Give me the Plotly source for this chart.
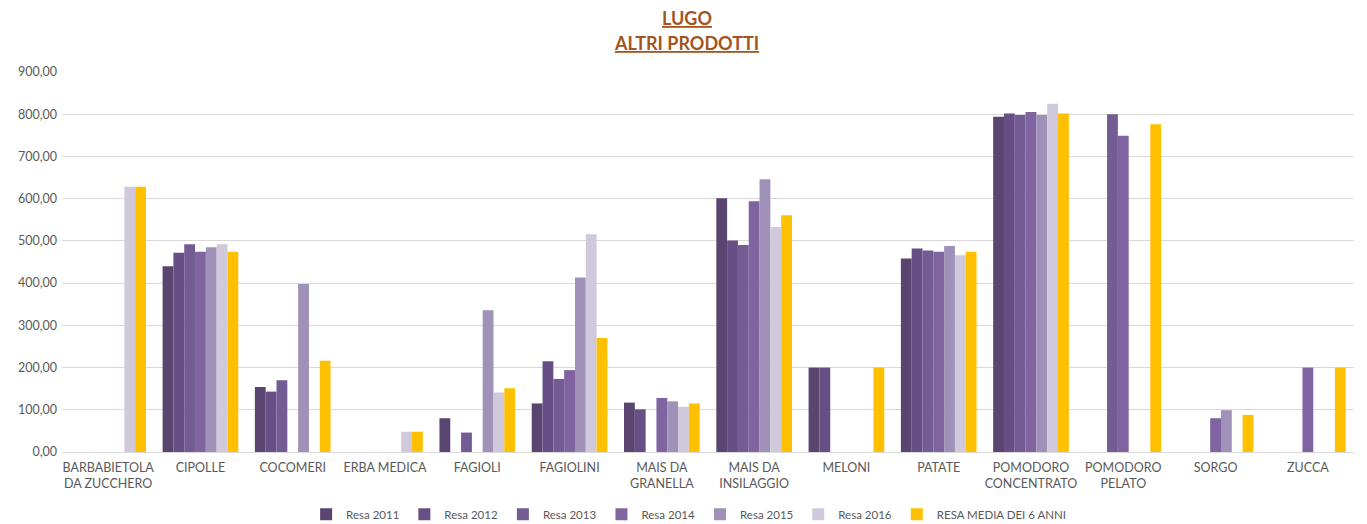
import plotly.graph_objects as go

categories = ["BARBABIETOLA<br>DA ZUCCHERO", "CIPOLLE", "COCOMERI", "ERBA MEDICA", "FAGIOLI",
              "FAGIOLINI", "MAIS DA<br>GRANELLA", "MAIS DA<br>INSILAGGIO", "MELONI", "PATATE",
              "POMODORO<br>CONCENTRATO", "POMODORO<br>PELATO", "SORGO", "ZUCCA"]

resa_2011 = [None, 440, 154, None, 80, 115, 117, 601, 200, 458, 794, None, None, None]
resa_2012 = [None, 472, 143, None, None, 215, 101, 501, 200, 482, 802, None, None, None]
resa_2013 = [None, 492, 170, None, 46, 173, None, 490, None, 477, 798, 800, None, None]
resa_2014 = [None, 474, None, None, None, 194, 128, 594, None, 474, 805, 749, 80, 200]
resa_2015 = [None, 485, 398, None, 336, 413, 120, 646, None, 488, 798, None, 99, None]
resa_2016 = [628, 492, None, 48, 141, 516, 107, 533, None, 466, 825, None, None, None]
resa_media = [628, 474, 216, 48, 151, 270, 115, 561, 200, 474, 802, 776, 88, 200]

series_names = ["Resa 2011", "Resa 2012", "Resa 2013", "Resa 2014", "Resa 2015", "Resa 2016",
                "RESA MEDIA DEI 6 ANNI"]
series_values = [resa_2011, resa_2012, resa_2013, resa_2014, resa_2015, resa_2016, resa_media]
colors = ["#5a4470", "#674f85", "#735b93", "#8064a0", "#a091b8", "#d0c9dc", "#ffc000"]

y_ticks = [0, 100, 200, 300, 400, 500, 600, 700, 800, 900]
y_tick_text = ["0,00", "100,00", "200,00", "300,00", "400,00", "500,00", "600,00", "700,00",
               "800,00", "900,00"]

title_lines = ["LUGO", "ALTRI PRODOTTI"]

font_family = "Lato, 'Open Sans', sans-serif"

fig = go.Figure()
for name, vals, col in zip(series_names, series_values, colors):
    fig.add_trace(go.Bar(name=name, x=categories, y=vals, marker_color=col,
                         marker_line_width=0))

for line, ypos in zip(title_lines, [1.141, 1.077]):
    fig.add_annotation(text="<b><u>" + line + "</u></b>", xref="paper", yref="paper",
                       x=0.4837, y=ypos, xanchor="center", yanchor="middle", showarrow=False,
                       font=dict(family=font_family, size=18, color="#a3551c"))

fig.update_layout(
    width=1367, height=524,
    paper_bgcolor="white", plot_bgcolor="white",
    margin=dict(l=54, r=21, t=64, b=80, autoexpand=False),
    barmode="group", bargap=0.18, bargroupgap=0,
    font=dict(family=font_family, size=12, color="#595959"),
    legend=dict(orientation="h", x=0.485, xanchor="center", y=-0.164, yanchor="middle",
                font=dict(size=11.5, color="#595959"), itemwidth=30,
                traceorder="normal"),
    xaxis=dict(showline=True, linecolor="#d9d9d9", linewidth=1, ticks="",
               tickfont=dict(size=12.5, color="#595959"), showgrid=False, automargin=False,
               ticklabelstandoff=4),
    yaxis=dict(range=[0, 900], tickvals=y_ticks, ticktext=y_tick_text,
               showgrid=True, gridcolor="#d9d9d9", gridwidth=1, zeroline=False,
               tickfont=dict(size=12.5, color="#595959"), ticks="", showline=False,
               automargin=False, ticklabelstandoff=4),
)

fig.write_html("out.html")
